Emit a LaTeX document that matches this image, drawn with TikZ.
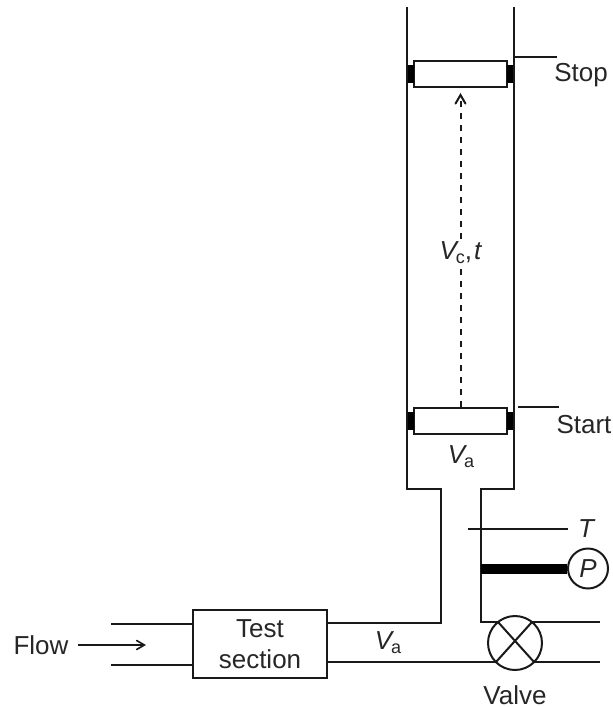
\documentclass[tikz,border=0pt]{standalone}
\usepackage{fontspec}
\setmainfont{Liberation Sans}
\usetikzlibrary{arrows,positioning}

\begin{document}
\begin{tikzpicture} [x=0.5pt,y=-0.5pt,
       >=stealth, black!90, text=black!85, line width=1pt,
	   every node/.style={font=\fontsize{13}{15}\selectfont},
	   pistonbody/.style = {rectangle, draw, inner sep=0pt, minimum width=46.5pt, minimum height=13pt},
	   sealpad/.style = {rectangle, fill=black, inner sep=0pt, minimum width=3.5pt, minimum height=9pt},
	   tickline/.style = {line width=0.8pt},
	   pipeline/.style = {line width=1pt}]
	\useasboundingbox (0,0) rectangle (613,707);

	%% Flow tube reference points
	\coordinate (tubeL) at (407,7);
	\coordinate (tubeR) at (514,7);
	\coordinate (shoulderL) at (407,489);
	\coordinate (shoulderR) at (514,489);
	\coordinate (neckL) at (441,489);
	\coordinate (neckR) at (481,489);

	%% Pistons
	\node [pistonbody] (stop) at (460.5,73.5) {};
	\node [pistonbody] (start) at (460.5,421) {};
	\node [sealpad] (stopL) at (410.5,73.5) {};
	\node [sealpad] (stopR) at (510.5,73.5) {};
	\node [sealpad] (startL) at (410.5,421) {};
	\node [sealpad] (startR) at (510.5,421) {};

	%% Test section and valve
	\node [rectangle, draw, align=center, inner sep=0pt, minimum width=67pt, minimum height=34pt] (test) at (260,644) {Test\\[0.5pt]section};
	\node [circle, draw, inner sep=0pt, minimum size=27pt] (valve) at (515,643) {};
	\node [circle, draw, inner sep=0pt, minimum size=20pt, font=\fontsize{13}{15}\selectfont\itshape] (gauge) at (588,568.5) {P};

	%% Labels
	\node (stoplabel) at (581,75) {Stop};
	\node (startlabel) at (584,425) {Start};
	\node (flowlabel) at (41,645) {Flow};
	\node (valvelabel) at (515,695) {Valve};
	\node (templabel) at (586,529) {\itshape T};
	\node (vol) at (461,457) {\itshape V\kern-0.5pt{\normalfont\fontsize{9}{10}\selectfont\raisebox{-2pt}{a}}};
	\node (vel) at (388,643) {\itshape V\kern-0.5pt{\normalfont\fontsize{9}{10}\selectfont\raisebox{-2pt}{a}}};

	%% Free ends
	\coordinate (stoptick) at (557,57);
	\coordinate (starttick) at (559,407);
	\coordinate (tleft) at (468,529);
	\coordinate (tright) at (568,529);
	\coordinate (flowfrom) at (78,645);
	\coordinate (flowto) at (146,645);
	\coordinate (valveUL) at (498,622);
	\coordinate (valveUR) at (532,622);
	\coordinate (valveLL) at (496,662);
	\coordinate (valveLR) at (534,662);

	%% Paths
	\draw [pipeline] (tubeL) -- (shoulderL) -- (neckL) -- (441,623) -- (test.east |- 0,623);
	\draw [pipeline] (tubeR) -- (shoulderR) -- (neckR) -- (481,622) -- (valveUL);
	\draw [pipeline] (valveUR) -- (600,622);
	\draw [pipeline] (test.east |- 0,662) -- (valveLL);
	\draw [pipeline] (valveLR) -- (600,662);
	\draw [pipeline] (111,624) -- (test.west |- 0,624);
	\draw [pipeline] (111,665) -- (test.west |- 0,665);
	\draw [tickline] (514,57) -- (stoptick);
	\draw [tickline] (518,407) -- (starttick);
	\draw [pipeline] (tleft) -- (tright);
	\draw [line width=5pt,black] (gauge.west -| neckR) -- (gauge.west);
	\draw (valveUR) -- (valveLL);
	\draw (valveUL) -- (valveLR);
	\draw [tickline,->,>=angle 60] (flowfrom) -- (flowto);
	\draw [pipeline,dashed,->,>=angle 60] (start.north) -- (stop.south |- 0,93)
	          node [pos=0.49,fill=white,inner sep=1pt] (time) {\itshape V\kern-0.5pt{\normalfont\fontsize{9}{10}\selectfont\raisebox{-2pt}{c}}\upshape,\kern1pt\itshape t};
\end{tikzpicture}
\end{document}
